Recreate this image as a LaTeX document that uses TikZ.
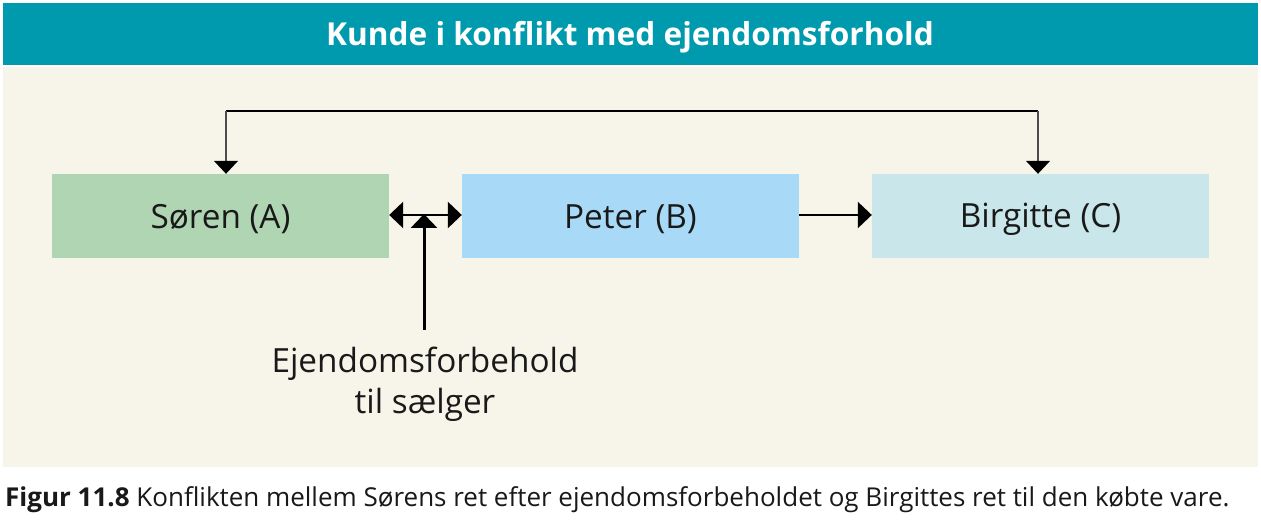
\documentclass[tikz,border=0pt]{standalone}
\usepackage{fontspec}
\setmainfont{Open Sans}
\usetikzlibrary{arrows.meta}
\definecolor{teal}{HTML}{009AAE}
\definecolor{beige}{HTML}{F7F4E9}
\definecolor{boxA}{HTML}{AFD5B3}
\definecolor{boxB}{HTML}{A8DAF7}
\definecolor{boxC}{HTML}{C9E7EB}
\newcommand{\lowered}[1]{\raisebox{-3pt}[\height][\depth]{#1}}
\tikzset{
  party/.style={minimum width=337pt, minimum height=84pt, inner sep=0pt, font=\fontsize{33.3}{40}\selectfont, text=black!90},
  conn/.style={line width=2.5pt, -{Triangle[length=14pt,width=26pt]}},
  topconn/.style={line width=2.5pt},
  drop/.style={line width=1.5pt, black!70, -{Triangle[length=13pt,width=24pt,color=black]}}
}
\begin{document}
\begin{tikzpicture}[x=1pt,y=-1pt]
\useasboundingbox (0,0) rectangle (1261,521);
\fill[white] (0,0) rectangle (1261,521);
\fill[teal] (3,3) rectangle (1258,65);
\fill[beige] (3,67) rectangle (1258,467);
\node[font=\bfseries\fontsize{31.6}{36}\selectfont, text=white] (title) at (630,37) {Kunde i konflikt med ejendomsforhold};
\node[party, fill=boxA] (A) at (220.5,216) {\lowered{Søren (A)}};
\node[party, fill=boxB] (B) at (630.5,216) {\lowered{Peter (B)}};
\node[party, fill=boxC] (C) at (1040.5,216) {\lowered{Birgitte (C)}};
\node[font=\fontsize{33.3}{41}\selectfont, align=center, text=black!90, inner sep=0pt] (lbl) at (425,384) {Ejendomsforbehold\\til sælger};
\coordinate (tl) at (226,111);
\coordinate (tr) at (1038,111);
\coordinate (mid) at (424,215);
\coordinate (bot) at (424,330);
\coordinate (tip) at (424,214);
\draw[topconn] (tl) -- (tr);
\draw[drop] (tl) -- (A.north -| tl);
\draw[drop] (tr) -- (C.north -| tr);
\draw[line width=2.5pt, {Triangle[length=14pt,width=26pt]}-{Triangle[length=14pt,width=26pt]}] (A.east |- mid) -- (B.west |- mid);
\draw[line width=3pt, -{Triangle[length=14pt,width=26pt]}] (bot) -- (tip);
\draw[conn] (B.east |- mid) -- (C.west |- mid);
\node[anchor=west, font=\fontsize{26}{31}\selectfont, text=black!90, inner sep=0pt] (cap) at (5,500) {\textbf{Figur 11.8} Konflikten mellem Sørens ret efter ejendomsforbeholdet og Birgittes ret til den købte vare.};
\end{tikzpicture}
\end{document}
